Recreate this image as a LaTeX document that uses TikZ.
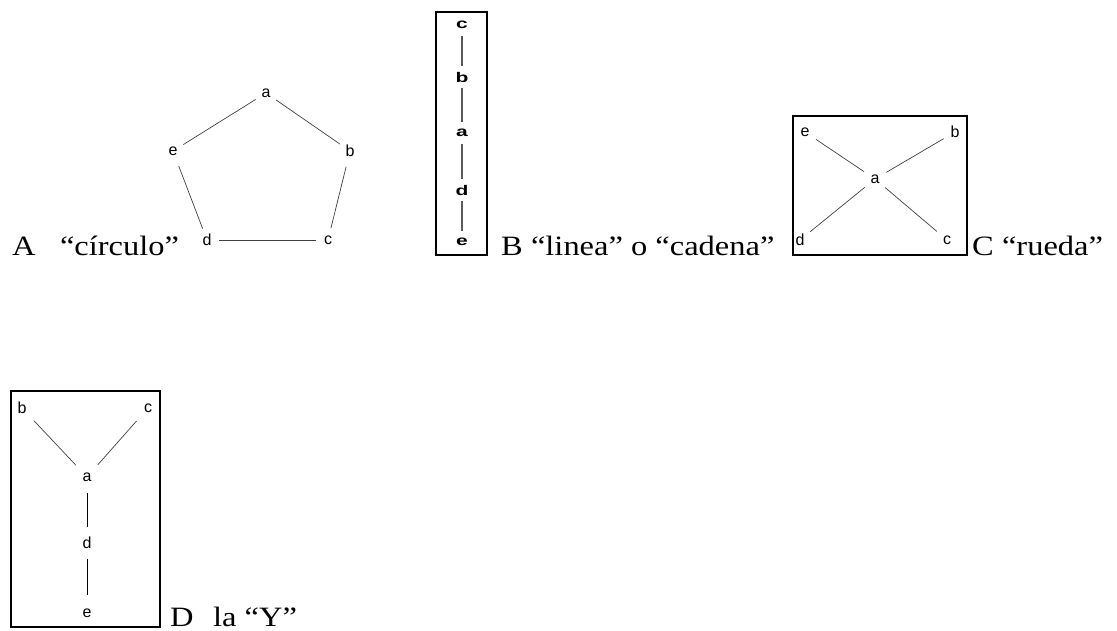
\documentclass[tikz,border=0pt]{standalone}
\usepackage{fontspec}
\setmainfont{Liberation Serif}
\newfontfamily\lblfont{Liberation Sans}
\begin{document}
\begin{tikzpicture}[x=1pt,y=-1pt,
  big/.style={anchor=base west,inner sep=0pt,xscale=1.16,font=\fontsize{28}{32}\selectfont},
  lbl/.style={circle,inner sep=0pt,minimum size=#1,font=\lblfont\fontsize{16}{18}\selectfont},
  lbl/.default=24pt,
  blbl/.style={circle,inner sep=0pt,minimum size=22pt,xscale=1.5,font=\lblfont\bfseries\fontsize{14}{16}\selectfont},
  thin/.style={draw=black!75,line width=0.7pt},
  thick/.style={draw=black,line width=1.3pt},
  frame/.style={draw=black,line width=2pt}
]
\useasboundingbox (0,0) rectangle (1117,630);
% A: circulo
\node[lbl] (Aa) at (266,93) {a};
\node[lbl] (Ab) at (350,151) {b};
\node[lbl] (Ac) at (328,240) {c};
\node[lbl] (Ad) at (207,240) {d};
\node[lbl] (Ae) at (173,151) {e};
\draw[thin] (Aa) -- (Ae);
\draw[thin] (Aa) -- (Ab);
\draw[thin,shorten <=4pt] (Ae) -- (Ad);
\draw[thin,shorten <=4pt] (Ab) -- (Ac);
\draw[thin] (Ad) -- (Ac);
\node[big] (At) at (12,255) {A\hspace{0.5em} “círculo”};
% B: linea
\draw[frame] (436,12) rectangle (487,255);
\node[blbl] (Bc) at (462,25) {c};
\node[blbl] (Bb) at (462,77) {b};
\node[blbl] (Ba) at (462,133) {a};
\node[blbl] (Bd) at (462,190) {d};
\node[blbl] (Be) at (462,242) {e};
\draw[thick] (Bc) -- (Bb);
\draw[thick] (Bb) -- (Ba);
\draw[thick] (Ba) -- (Bd);
\draw[thick] (Bd) -- (Be);
\node[big] (Bt) at (501,255) {B “linea” o “cadena”};
% C: rueda
\draw[frame] (793,116) rectangle (967,255);
\node[lbl=26pt] (Ca) at (875,179) {a};
\node[lbl=26pt] (Cb) at (955,132) {b};
\node[lbl=26pt] (Cc) at (947,240) {c};
\node[lbl=26pt] (Cd) at (800,240) {d};
\node[lbl=26pt] (Ce) at (805,132) {e};
\draw[thin] (Ca) -- (Ce);
\draw[thin] (Ca) -- (Cb);
\draw[thin] (Ca) -- (Cc);
\draw[thin] (Ca) -- (Cd);
\node[big] (Ct) at (972,255) {C “rueda”};
% D: Y
\draw[frame] (11,391) rectangle (160,627);
\node[lbl=34pt] (Db) at (22,408) {b};
\node[lbl=34pt] (Dc) at (148,408) {c};
\node[lbl=32pt] (Da) at (87,477) {a};
\node[lbl=32pt] (Dd) at (87,543) {d};
\node[lbl=36pt] (De) at (87,613) {e};
\draw[thin] (Db) -- (Da);
\draw[thin] (Dc) -- (Da);
\draw[thin,draw=black] (Da) -- (Dd);
\draw[thin,draw=black] (Dd) -- (De);
\node[big] (Dt) at (170,626) {D\hspace{0.6em}la “Y”};
\end{tikzpicture}
\end{document}
